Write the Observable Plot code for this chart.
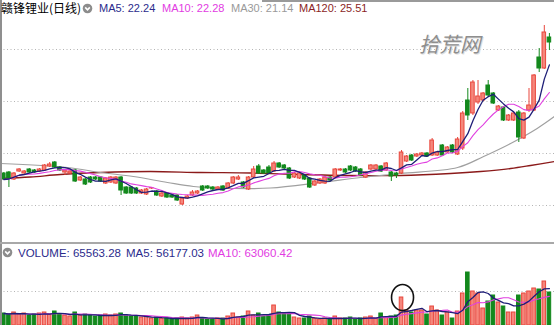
<!DOCTYPE html>
<html><head><meta charset="utf-8">
<script src="https://cdn.jsdelivr.net/npm/d3@7"></script>
<script src="https://cdn.jsdelivr.net/npm/@observablehq/plot@0.6"></script>
<style>
body{margin:0;background:#fff;}
#wrap{position:relative;width:554px;height:325px;overflow:hidden;background:#fff;}
.t{position:absolute;white-space:nowrap;font-family:"Liberation Sans",Arial,sans-serif;font-size:11px;line-height:16px;top:0;}
.v{position:absolute;white-space:nowrap;font-family:"Liberation Sans",Arial,sans-serif;font-size:11.5px;line-height:16px;top:245px;}
.p{position:absolute;}
</style></head><body><div id="wrap"></div>
<script>
// ---- daily candles (price) ----
const open  = [17.35,17.4,17.05,17.45,17.35,17.55,17.5,17.45,17.5,17.7,17.9,17.65,17.4,17.35,17.5,17.0,17.05,17.15,17.15,17.15,16.85,16.9,16.85,17.15,16.65,16.65,16.6,16.35,16.3,16.6,16.45,16.2,16.35,16.25,16.25,15.8,16.1,16.25,16.35,16.7,16.7,16.65,16.55,16.7,16.6,16.85,17.05,16.9,16.55,17.15,17.7,17.5,17.65,17.45,17.85,17.75,17.6,17.15,17.1,17.25,17.1,16.75,16.85,16.85,17.15,17.15,17.5,17.55,17.7,17.65,17.55,17.15,17.55,17.55,17.7,17.5,17.4,17.35,17.35,17.95,18.25,18.2,18.25,18.35,18.25,18.25,18.75,18.4,18.75,18.3,18.6,21.0,20.35,20.9,21.0,21.75,21.35,20.5,20.65,20.0,20.0,20.4,19.1,20.5,20.5,23.15,22.6,24.15];
const high  = [17.4,17.45,17.4,17.6,17.5,17.6,17.55,17.6,17.8,17.9,17.95,17.7,17.55,17.5,17.55,17.2,17.1,17.2,17.2,17.2,17.15,17.2,17.2,17.2,16.7,16.7,16.65,16.55,16.6,16.65,16.5,16.4,16.4,16.3,16.3,16.15,16.25,16.5,16.5,16.75,16.75,16.7,16.7,16.75,16.9,17.2,17.25,16.95,17.2,17.7,17.8,17.55,17.75,17.95,17.9,17.8,17.65,17.4,17.4,17.3,17.15,17.0,17.1,17.2,17.2,17.6,17.6,17.6,17.75,17.7,17.6,17.45,17.8,17.8,17.75,17.9,17.45,17.4,18.5,18.25,18.3,18.35,18.4,18.4,19.1,18.45,18.8,18.7,18.8,19.15,20.45,21.6,22.0,22.0,21.4,22.0,21.4,20.75,20.7,20.3,20.4,20.5,20.4,21.6,22.3,23.6,24.75,24.35];
const low   = [17.0,16.65,17.0,17.4,17.3,17.35,17.35,17.4,17.45,17.65,17.6,17.45,17.25,17.3,16.9,16.95,16.75,16.85,17.0,16.9,16.8,16.85,16.8,16.25,16.3,16.3,16.3,16.3,16.25,16.55,16.2,16.15,16.1,16.1,15.95,15.75,16.05,16.2,16.3,16.45,16.55,16.5,16.5,16.45,16.55,16.8,17.0,16.6,16.5,17.1,17.3,17.3,17.3,17.4,17.6,17.55,17.05,17.1,17.05,17.0,16.6,16.7,16.8,16.8,16.95,17.1,17.45,17.35,17.45,17.4,17.2,17.1,17.5,17.5,17.4,17.45,16.95,17.1,17.3,17.9,17.95,18.15,18.2,18.15,18.2,18.2,18.2,18.35,18.35,18.25,18.5,20.0,20.25,20.8,20.95,21.15,20.8,20.45,19.95,19.95,19.95,18.9,19.05,20.4,20.45,22.4,22.55,23.5];
const close = [17.05,17.1,17.35,17.55,17.45,17.4,17.4,17.55,17.75,17.8,17.65,17.5,17.5,17.45,16.95,17.15,16.8,16.9,17.05,16.95,17.1,17.15,17.15,16.5,16.35,16.35,16.35,16.5,16.55,16.62,16.25,16.35,16.15,16.15,16.0,16.1,16.2,16.4,16.45,16.5,16.6,16.55,16.65,16.5,16.85,17.15,17.15,16.65,17.15,17.55,17.35,17.35,17.35,17.85,17.65,17.6,17.1,17.35,17.35,17.05,16.65,16.95,17.05,17.15,17.0,17.55,17.55,17.4,17.5,17.45,17.25,17.4,17.75,17.75,17.45,17.85,17.2,17.25,18.4,18.2,18.0,18.3,18.35,18.2,19.0,18.4,18.25,18.65,18.4,19.05,20.35,20.25,21.9,21.2,21.35,21.25,20.85,20.7,20.0,20.25,20.35,19.15,20.35,20.75,22.25,22.6,24.4,23.9];
const volume = [24000,22000,26000,22000,24000,20000,22000,24000,26000,22000,28000,22000,20000,18000,26000,20000,22000,20000,18000,20000,22000,20000,22000,24000,20000,18000,18000,16000,18000,14000,16000,14000,14000,12000,14000,16000,14000,16000,20000,14000,12000,12000,14000,14000,18000,24000,16000,18000,28000,20000,24000,18000,20000,40000,26000,24000,22000,16000,14000,14000,18000,14000,12000,14000,12000,18000,14000,14000,16000,12000,14000,16000,18000,14000,24000,16000,18000,20000,56000,30000,26000,30000,30000,22000,38000,30000,20000,26000,14000,28000,64000,106000,68000,64000,34000,48000,60000,46000,38000,26000,26000,60000,64000,68000,74000,72000,88000,66000];
// ---- slow moving averages (candle index, price) ----
const ma30Idx = [-0.65,12.5,19,25.4,32.1,37.2,45,52.3,62.1,70,77.8,89,94.1,99.4,104.6,108];
const ma30Val = [17.85,17.65,17.4,17.2,16.9,16.7,16.6,16.625,16.9,17.15,17.35,17.65,18.2,18.85,19.6,20.2];
const ma120Idx = [-0.65,5.2,11.1,19,28.8,38.6,48.4,58.2,68,77.8,87.6,93.5,99.4,103.3,108];
const ma120Val = [17.1,17.175,17.3,17.4,17.45,17.4,17.375,17.3,17.25,17.25,17.35,17.45,17.6,17.75,17.95];
const priceGrid = [23.55,20.95,18.35,15.75];
const volGrid = [68000];
const circledDay = 78; // the volume bar ringed by hand in the picture
// ---- header texts ----
const title = "赣锋锂业(日线)";
const maLabels = [["MA5: 22.24","#2b2b8c",99],["MA10: 22.28","#e23be2",162],["MA30: 21.14","#9a9a9a",231],["MA120: 25.51","#8b1f1f",299]];
const volLabels = [["VOLUME: 65563.28","#2b2b8c",18],["MA5: 56177.03","#2b2b8c",126],["MA10: 63060.42","#e23be2",208]];
const watermark = "拾荒网";

const RED = "#e8463c", SALMON = "#f5877c", GREEN = "#13891d";
const NAVY = "#1f1f78", MAG = "#e040e0", GRAY = "#a0a0a0", DRED = "#8b1a1a";

const rows = d3.range(open.length).map(i => ({i, o: open[i], h: high[i], l: low[i], c: close[i], v: volume[i], up: close[i] >= open[i]}));
const ups = rows.filter(d => d.up), downs = rows.filter(d => !d.up);
const ma30 = ma30Idx.map((x, j) => ({x, y: ma30Val[j]}));
const ma120 = ma120Idx.map((x, j) => ({x, y: ma120Val[j]}));

const wrap = document.getElementById("wrap");

const main = Plot.plot({
  width: 554, height: 242, margin: 0,
  x: {domain: [-0.65, 108], axis: null},
  y: {domain: [13.9, 26], axis: null},
  style: {background: "transparent", overflow: "visible"},
  marks: [
    Plot.ruleY(priceGrid, {stroke: "#b4b4b4", strokeDasharray: "1,2.5"}),
    Plot.line(ma120, {x: "x", y: "y", stroke: DRED, strokeWidth: 1.3, curve: "catmull-rom"}),
    Plot.line(ma30, {x: "x", y: "y", stroke: GRAY, strokeWidth: 1.2, curve: "catmull-rom"}),
    Plot.ruleX(ups, {x: "i", y1: "l", y2: "h", stroke: RED, strokeWidth: 1}),
    Plot.ruleX(downs, {x: "i", y1: "l", y2: "h", stroke: GREEN, strokeWidth: 1}),
    Plot.rect(ups, {x1: d => d.i - 0.35, x2: d => d.i + 0.35, y1: "o", y2: "c", fill: SALMON, stroke: RED, strokeWidth: 1}),
    Plot.rect(downs, {x1: d => d.i - 0.35, x2: d => d.i + 0.35, y1: "o", y2: "c", fill: GREEN, stroke: GREEN, strokeWidth: 1}),
    Plot.lineY(rows, Plot.windowY({k: 10, anchor: "end"}, {x: "i", y: "c", stroke: MAG, strokeWidth: 1.1})),
    Plot.lineY(rows, Plot.windowY({k: 5, anchor: "end"}, {x: "i", y: "c", stroke: NAVY, strokeWidth: 1.3}))
  ]
});
main.classList.add("p"); main.style.left = "0px"; main.style.top = "0px";
wrap.appendChild(main);

const vol = Plot.plot({
  width: 554, height: 82, margin: 0,
  x: {domain: [-0.65, 108], axis: null},
  y: {domain: [0, 164000], axis: null},
  style: {background: "transparent", overflow: "visible"},
  marks: [
    Plot.ruleY(volGrid, {stroke: "#b4b4b4", strokeDasharray: "1,2.5"}),
    Plot.rect(ups, {x1: d => d.i - 0.35, x2: d => d.i + 0.35, y1: d => 0, y2: "v", fill: SALMON, stroke: RED, strokeWidth: 1}),
    Plot.rect(downs, {x1: d => d.i - 0.35, x2: d => d.i + 0.35, y1: d => 0, y2: "v", fill: GREEN, stroke: GREEN, strokeWidth: 1}),
    Plot.lineY(rows, Plot.windowY({k: 10, anchor: "end"}, {x: "i", y: "v", stroke: MAG, strokeWidth: 1.1})),
    Plot.lineY(rows, Plot.windowY({k: 5, anchor: "end"}, {x: "i", y: "v", stroke: NAVY, strokeWidth: 1.3}))
  ]
});
vol.classList.add("p"); vol.style.left = "0px"; vol.style.top = "243px";
wrap.appendChild(vol);

// hand-drawn ring around the circled volume bar, placed with the plot's own scales
{
  const ns = "http://www.w3.org/2000/svg";
  const e = document.createElementNS(ns, "ellipse");
  e.setAttribute("cx", vol.scale("x").apply(circledDay) + 1.5);
  e.setAttribute("cy", vol.scale("y").apply(volume[circledDay]) + 0.5);
  e.setAttribute("rx", 11);
  e.setAttribute("ry", 13);
  e.setAttribute("fill", "none");
  e.setAttribute("stroke", "#111");
  e.setAttribute("stroke-width", 1.6);
  vol.appendChild(e);
}

// frame lines
function box(l, t, w, h, c) { const d = document.createElement("div"); d.className = "p"; Object.assign(d.style, {left: l + "px", top: t + "px", width: w + "px", height: h + "px", background: c}); wrap.appendChild(d); }
box(0, 0, 2, 325, "#8f8f8f");
box(0, 242, 554, 2, "#a8a8a8");
box(262, 0, 292, 1.5, "#9a9a9a");

// header
function txt(cls, s, color, left, extra) { const d = document.createElement("div"); d.className = cls; d.textContent = s; d.style.color = color; d.style.left = left + "px"; if (extra) Object.assign(d.style, extra); wrap.appendChild(d); return d; }
txt("t", title, "#000", 1, {fontFamily: '"Noto Sans CJK SC", sans-serif', fontSize: "12px"});
maLabels.forEach(([s, c, x]) => txt("t", s, c, x));
volLabels.forEach(([s, c, x]) => txt("v", s, c, x));
function icon(cx, cy) {
  const ns = "http://www.w3.org/2000/svg";
  const s = document.createElementNS(ns, "svg");
  s.setAttribute("width", 11); s.setAttribute("height", 11);
  s.setAttribute("class", "p"); s.style.left = (cx - 5.5) + "px"; s.style.top = (cy - 5.5) + "px";
  s.innerHTML = '<circle cx="5.5" cy="5.5" r="4.8" fill="#8c8c8c"/><polyline points="3.2,4.4 5.5,6.8 7.8,4.4" fill="none" stroke="#fff" stroke-width="1.6"/>';
  wrap.appendChild(s);
}
icon(87.5, 8);
icon(7, 252.5);
txt("t", watermark, "#8e8e8e", 419, {fontFamily: '"Noto Sans CJK SC", sans-serif', fontSize: "20.5px", lineHeight: "20px", top: "33px", fontStyle: "italic", textShadow: "1px 1px 0 #e0e0e0"});
</script>
</body></html>
